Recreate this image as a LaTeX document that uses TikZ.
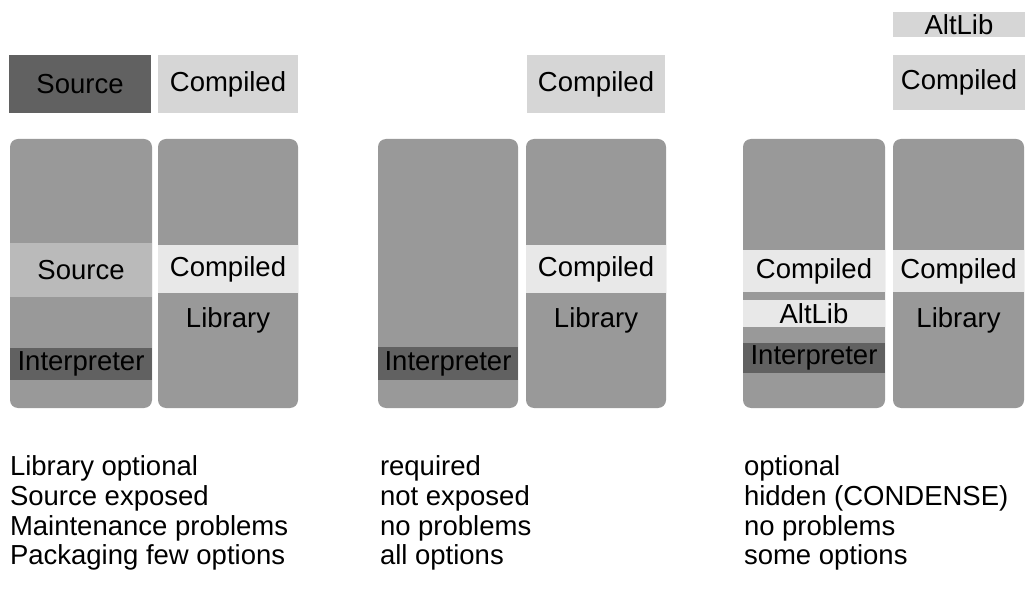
\documentclass[tikz,border=0pt]{standalone}
\usepackage{fontspec}
\setmainfont{Liberation Sans}
\begin{document}
\begin{tikzpicture}[x=1pt,y=-1pt,
  every node/.style={inner sep=0pt, outer sep=0pt, font=\fontsize{27.5}{30}\selectfont},
  block/.style={rounded corners=8pt, fill=black!40, minimum width=#1, minimum height=269},
  tag/.style={minimum width=#1, minimum height=58},
  band/.style={minimum width=#1},
  dark/.style={fill=black!62},
  mid/.style={fill=black!40},
  lightish/.style={fill=black!27},
  pale/.style={fill=black!16},
  verypale/.style={fill=black!9},
  note/.style={anchor=base west}]
\useasboundingbox (0,0) rectangle (1025,593);

% ---- first column: source + compiled library ----
\node (aSrcTop) [tag=142, dark] at (80,84) {Source};
\node (aCmpTop) [tag=140, pale] at (228,84) {Compiled};
\node (aLeft)  [block=142] at (81,273.5) {};
\node (aRight) [block=140] at (228,273.5) {};
\node (aSrc)   [band=142, lightish, minimum height=54] at (81,270) {Source};
\node (aInt)   [band=142, dark, minimum height=32] at (81,364) {Interpreter};
\node (aCmp)   [band=140, verypale, minimum height=48] at (228,269) {Compiled};
\node (aLib)   at (228,320) {Library};

% ---- second column: compiled library only ----
\node (bCmpTop) [tag=138, pale] at (596,84) {Compiled};
\node (bLeft)  [block=140] at (448,273.5) {};
\node (bRight) [block=140] at (596,273.5) {};
\node (bInt)   [band=140, dark, minimum height=33] at (448,363.5) {Interpreter};
\node (bCmp)   [band=140, verypale, minimum height=48] at (596,269) {Compiled};
\node (bLib)   at (596,320) {Library};

% ---- third column: condensed alternative library ----
\node (cAltTop) [pale, minimum width=132, minimum height=25] at (959,24.5) {AltLib};
\node (cCmpTop) [tag=132, pale, minimum height=55] at (959,82.5) {Compiled};
\node (cLeft)  [block=142] at (814,273.5) {};
\node (cRight) [block=131] at (958.5,273.5) {};
\node (cCmp)   [band=142, verypale, minimum height=42] at (814,271) {Compiled};
\node (cAlt)   [band=142, verypale, minimum height=27] at (814,313.5) {AltLib};
\node (cInt)   [band=142, dark, minimum height=30] at (814,358) {Interpreter};
\node (cCmpR)  [band=131, verypale, minimum height=42] at (958.5,271) {Compiled};
\node (cLib)   at (958.5,320) {Library};

% ---- comparison notes ----
\node (aN1) [note] at (10,475) {Library optional};
\node (aN2) [note] at (10,505) {Source exposed};
\node (aN3) [note] at (10,535) {Maintenance problems};
\node (aN4) [note] at (10,564) {Packaging few options};

\node (bN1) [note] at (380,475) {required};
\node (bN2) [note] at (380,505) {not exposed};
\node (bN3) [note] at (380,535) {no problems};
\node (bN4) [note] at (380,564) {all options};

\node (cN1) [note] at (744,475) {optional};
\node (cN2) [note] at (744,505) {hidden (CONDENSE)};
\node (cN3) [note] at (744,535) {no problems};
\node (cN4) [note] at (744,564) {some options};
\end{tikzpicture}
\end{document}
